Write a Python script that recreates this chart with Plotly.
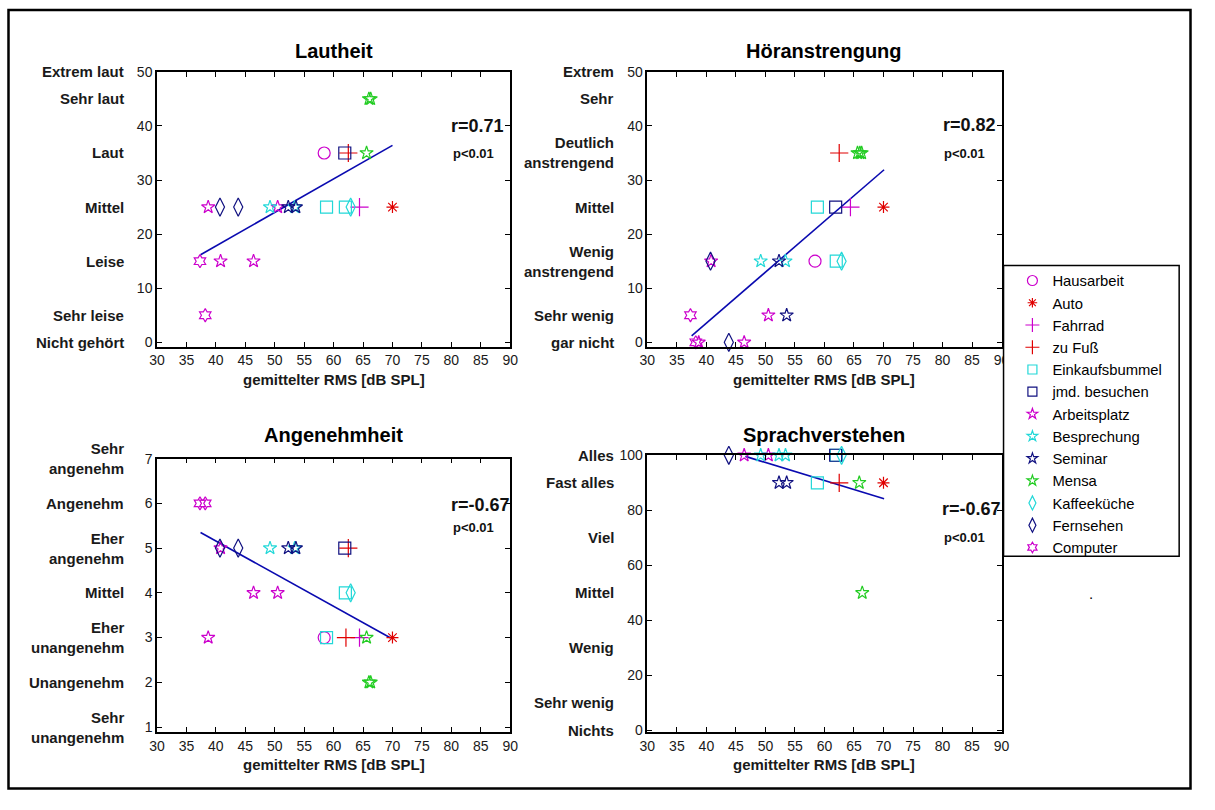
import plotly.graph_objects as go

# The page keeps the browser's default 8 px body margin, so the figure is
# sized to fill the window exactly with that margin around it.
PAGE_W, PAGE_H, M = 1215, 810, 8
W, H = PAGE_W - 2 * M, PAGE_H - 2 * M
FONT = "Arial, 'Liberation Sans', sans-serif"

# Activities (legend order) and their marker styles
ACTIVITIES = ["Hausarbeit", "Auto", "Fahrrad", "zu Fuß", "Einkaufsbummel", "jmd. besuchen",
              "Arbeitsplatz", "Besprechung", "Seminar", "Mensa", "Kaffeeküche", "Fernsehen", "Computer"]

MAGENTA, RED, CYAN, NAVY, GREEN = "#CC00CC", "#E00000", "#22D8D8", "#101080", "#22CC22"
COLORS = [MAGENTA, RED, MAGENTA, RED, CYAN, NAVY, MAGENTA, CYAN, NAVY, GREEN, CYAN, NAVY, MAGENTA]
SYMBOLS = ["circle-open", "asterisk-open", "cross-thin-open", "cross-thin-open", "square-open",
           "square-open", "star-open", "star-open", "star-open", "star-open", "diamond-tall-open",
           "diamond-tall-open", "hexagram-open"]
SIZES = [12, 10, 13, 13, 12, 12, 10, 10, 10, 10, 13, 13, 10]
LEGEND_SIZES = [10, 8, 10, 10, 9, 9, 8, 8, 8, 8, 10, 10, 8]

# Lautheit
laut_act = ["Hausarbeit", "Auto", "Fahrrad", "zu Fuß", "Einkaufsbummel", "Einkaufsbummel",
            "jmd. besuchen", "Arbeitsplatz", "Arbeitsplatz", "Arbeitsplatz", "Arbeitsplatz",
            "Besprechung", "Besprechung", "Seminar", "Seminar", "Mensa", "Mensa", "Mensa",
            "Kaffeeküche", "Fernsehen", "Fernsehen", "Computer", "Computer"]
laut_x = [58.4, 70.0, 64.4, 62.5, 58.8, 62.0, 61.9, 38.7, 40.8, 46.4, 50.5, 49.2, 53.4,
          52.3, 53.6, 65.6, 66.0, 66.3, 62.9, 40.7, 43.8, 37.3, 38.2]
laut_y = [35, 25, 25, 35, 25, 25, 35, 25, 15, 15, 25, 25, 25, 25, 25, 35, 45, 45, 25, 25, 25, 15, 5]
laut_fit_x = [37.4, 70.0]
laut_fit_y = [16.2, 36.4]

# Höranstrengung
hoer_act = laut_act
hoer_x = laut_x
hoer_y = [15, 25, 25, 35, 25, 15, 25, 0, 15, 0, 5, 15, 15, 15, 5, 35, 35, 35, 15, 15, 0, 5, 0]
hoer_fit_x = [37.5, 70.1]
hoer_fit_y = [1.2, 31.9]

# Angenehmheit
ange_act = ["Hausarbeit", "Auto", "Fahrrad", "zu Fuß", "zu Fuß", "Einkaufsbummel", "Einkaufsbummel",
            "jmd. besuchen", "Arbeitsplatz", "Arbeitsplatz", "Arbeitsplatz", "Arbeitsplatz",
            "Besprechung", "Besprechung", "Seminar", "Seminar", "Mensa", "Mensa", "Mensa",
            "Kaffeeküche", "Fernsehen", "Fernsehen", "Computer", "Computer"]
ange_x = [58.4, 70.0, 64.4, 62.5, 62.1, 58.8, 62.0, 61.9, 38.7, 40.8, 46.4, 50.5, 49.2, 53.4,
          52.3, 53.6, 65.6, 66.0, 66.3, 62.9, 40.7, 43.8, 37.3, 38.2]
ange_y = [3, 3, 3, 5, 3, 3, 4, 5, 3, 5, 4, 4, 5, 5, 5, 5, 3, 2, 2, 4, 5, 5, 6, 6]
ange_fit_x = [37.4, 69.7]
ange_fit_y = [5.35, 2.99]

# Sprachverstehen
spra_act = ["Auto", "zu Fuß", "Einkaufsbummel", "Einkaufsbummel", "jmd. besuchen", "Arbeitsplatz",
            "Arbeitsplatz", "Besprechung", "Besprechung", "Besprechung", "Seminar", "Seminar",
            "Mensa", "Mensa", "Kaffeeküche", "Fernsehen"]
spra_x = [70.0, 62.5, 58.8, 62.0, 61.9, 46.4, 50.5, 49.2, 52.3, 53.4, 52.3, 53.6, 65.9, 66.4, 62.9, 43.8]
spra_y = [90, 90, 90, 100, 100, 100, 100, 100, 100, 100, 90, 90, 90, 50, 100, 100]
spra_fit_x = [46.6, 70.1]
spra_fit_y = [99.6, 84.2]

# Verbal scale labels next to the numeric y ticks
laut_labels = ["Extrem laut", "Sehr laut", "Laut", "Mittel", "Leise", "Sehr leise", "Nicht gehört"]
laut_levels = [50, 45, 35, 25, 15, 5, 0]
hoer_labels = ["Extrem", "Sehr", "Deutlich<br>anstrengend", "Mittel", "Wenig<br>anstrengend",
               "Sehr wenig", "gar nicht"]
hoer_levels = [50, 45, 35, 25, 15, 5, 0]
ange_labels = ["Sehr<br>angenehm", "Angenehm", "Eher<br>angenehm", "Mittel", "Eher<br>unangenehm",
               "Unangenehm", "Sehr<br>unangenehm"]
ange_levels = [7, 6, 5, 4, 3, 2, 1]
spra_labels = ["Alles", "Fast alles", "Viel", "Mittel", "Wenig", "Sehr wenig", "Nichts"]
spra_levels = [100, 90, 70, 50, 30, 10, 0]

x_ticks = [30, 35, 40, 45, 50, 55, 60, 65, 70, 75, 80, 85, 90]


def px(x):
    """Window pixel column -> paper x."""
    return (x - M) / W


def py(y):
    """Window pixel row -> paper y."""
    return 1 - (y - M) / H


panels = [
    dict(title="Lautheit", act=laut_act, x=laut_x, y=laut_y, fx=laut_fit_x, fy=laut_fit_y,
         r="r=0.71", labels=laut_labels, levels=laut_levels, yrange=[-0.85, 50],
         yticks=[0, 10, 20, 30, 40, 50], box=(159, 517, 73, 353), title_y=52,
         lab_x=128, r_pos=(455, 128), p_pos=(457, 156)),
    dict(title="Höranstrengung", act=hoer_act, x=hoer_x, y=hoer_y, fx=hoer_fit_x, fy=hoer_fit_y,
         r="r=0.82", labels=hoer_labels, levels=hoer_levels, yrange=[-0.85, 50],
         yticks=[0, 10, 20, 30, 40, 50], box=(656, 1015, 73, 353), title_y=52,
         lab_x=624, r_pos=(954, 127), p_pos=(955, 156)),
    dict(title="Angenehmheit", act=ange_act, x=ange_x, y=ange_y, fx=ange_fit_x, fy=ange_fit_y,
         r="r=-0.67", labels=ange_labels, levels=ange_levels, yrange=[0.89, 7],
         yticks=[1, 2, 3, 4, 5, 6, 7], box=(159, 517, 466.7, 745), title_y=443,
         lab_x=128, r_pos=(455, 514), p_pos=(457, 537)),
    dict(title="Sprachverstehen", act=spra_act, x=spra_x, y=spra_y, fx=spra_fit_x, fy=spra_fit_y,
         r="r=-0.67", labels=spra_labels, levels=spra_levels, yrange=[-0.6, 100],
         yticks=[0, 20, 40, 60, 80, 100], box=(656, 1015, 463.3, 745), title_y=443,
         lab_x=624, r_pos=(953, 518), p_pos=(955, 547)),
]

fig = go.Figure()
annotations = []
layout_axes = {}

for i, p in enumerate(panels):
    n = "" if i == 0 else str(i + 1)
    xa, ya = "x" + n, "y" + n
    l, r, t, b = p["box"]

    # regression line
    fig.add_trace(go.Scatter(x=p["fx"], y=p["fy"], mode="lines", xaxis=xa, yaxis=ya,
                             line=dict(color="#0A0AB0", width=1.6), showlegend=False,
                             hoverinfo="skip"))

    for k, name in enumerate(ACTIVITIES):
        xs = [xv for a, xv in zip(p["act"], p["x"]) if a == name]
        ys = [yv for a, yv in zip(p["act"], p["y"]) if a == name]
        if not xs:
            continue
        fig.add_trace(go.Scatter(
            x=xs, y=ys, mode="markers", name=name, xaxis=xa, yaxis=ya,
            legendgroup=name, showlegend=False, cliponaxis=False,
            marker=dict(symbol=SYMBOLS[k], size=SIZES[k], color=COLORS[k],
                        line=dict(color=COLORS[k], width=1.2)),
        ))

    axis_common = dict(showgrid=False, zeroline=False, showline=True, linecolor="black",
                       linewidth=1.5, mirror="ticks", ticks="inside", ticklen=5,
                       tickwidth=1, tickcolor="black",
                       tickfont=dict(family=FONT, size=14, color="#1a1a1a"))
    layout_axes["xaxis" + n] = dict(axis_common, domain=[px(l), px(r)], range=[30, 90],
                                    tickvals=x_ticks, anchor=ya)
    layout_axes["yaxis" + n] = dict(axis_common, domain=[py(b), py(t)], range=p["yrange"],
                                    tickvals=p["yticks"], anchor=xa)

    cx = (l + r) / 2
    annotations.append(dict(text=f"<b>{p['title']}</b>", x=px(cx), y=py(p["title_y"]),
                            xref="paper", yref="paper", xanchor="center", yanchor="middle",
                            showarrow=False, font=dict(family=FONT, size=20, color="black")))
    annotations.append(dict(text="<b>gemittelter RMS [dB SPL]</b>", x=px(cx), y=py(b + 33),
                            xref="paper", yref="paper", xanchor="center", yanchor="middle",
                            showarrow=False, font=dict(family=FONT, size=15, color="#1a1a1a")))
    for lab, lev in zip(p["labels"], p["levels"]):
        annotations.append(dict(text=f"<b>{lab}</b>", x=px(p["lab_x"]), y=lev, xref="paper",
                                yref=ya, xanchor="right", yanchor="middle", align="right",
                                showarrow=False,
                                font=dict(family=FONT, size=15, color="#1a1a1a")))
    annotations.append(dict(text=f"<b>{p['r']}</b>", x=px(p["r_pos"][0]), y=py(p["r_pos"][1]),
                            xref="paper", yref="paper", xanchor="left", yanchor="middle",
                            showarrow=False, font=dict(family=FONT, size=18, color="#111")))
    annotations.append(dict(text="<b>p<0.01</b>", x=px(p["p_pos"][0]), y=py(p["p_pos"][1]),
                            xref="paper", yref="paper", xanchor="left", yanchor="middle",
                            showarrow=False, font=dict(family=FONT, size=13, color="#111")))

# legend entries (one per activity, with compact symbols)
for k, name in enumerate(ACTIVITIES):
    fig.add_trace(go.Scatter(
        x=[None], y=[None], mode="markers", name=name, legendgroup=name, showlegend=True,
        marker=dict(symbol=SYMBOLS[k], size=LEGEND_SIZES[k], color=COLORS[k],
                    line=dict(color=COLORS[k], width=1.2)),
    ))

annotations.append(dict(text=".", x=px(1106), y=py(604), xref="paper", yref="paper",
                        xanchor="center", yanchor="middle", showarrow=False,
                        font=dict(family=FONT, size=15, color="black")))

shapes = [
    # outer frame
    dict(type="rect", xref="paper", yref="paper", x0=px(8.5), x1=px(1206.5), y0=py(802.5),
         y1=py(10), line=dict(color="black", width=2.5), layer="below"),
    # legend frame
    dict(type="rect", xref="paper", yref="paper", x0=px(1017), x1=px(1195), y0=py(566),
         y1=py(270), line=dict(color="black", width=1.5), fillcolor="white", layer="above"),
]

fig.update_layout(
    width=W, height=H, margin=dict(l=0, r=0, t=0, b=0),
    paper_bgcolor="white", plot_bgcolor="white",
    annotations=annotations, shapes=shapes,
    legend=dict(x=px(1026), y=py(269), xanchor="left", yanchor="top",
                bgcolor="rgba(0,0,0,0)", borderwidth=0, tracegroupgap=0,
                font=dict(family=FONT, size=14.8, color="black")),
    **layout_axes,
)

fig.write_html("out.html")
